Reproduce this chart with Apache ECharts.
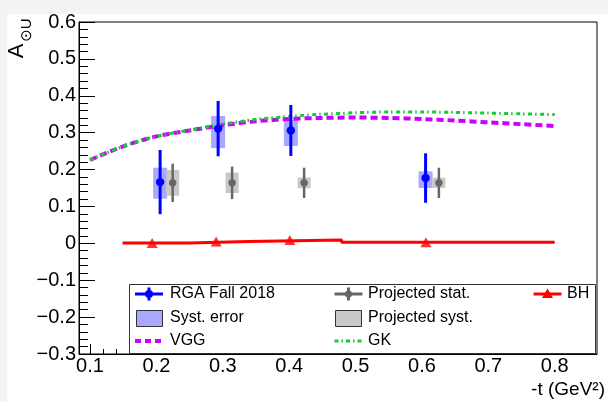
<!DOCTYPE html>
<html>
<head>
<meta charset="utf-8">
<script src="https://cdn.jsdelivr.net/npm/echarts@6/dist/echarts.min.js"></script>
<style>
  html, body { margin: 0; padding: 0; background: #f3f3f3; }
  #chart { width: 608px; height: 402px; }
</style>
</head>
<body>
<div id="chart"></div>
<script>
const FONT = '"Liberation Sans", Arial, "DejaVu Sans", sans-serif';

// RGA Fall 2018 measured asymmetry: bin centres, values, stat. and syst. errors
const rgaT = [0.2056, 0.293, 0.4025, 0.6055];
const rgaA = [0.166, 0.311, 0.306, 0.177];
const rgaStat = [0.087, 0.075, 0.069, 0.067];
const rgaSystUp = [0.039, 0.034, 0.029, 0.018];
const rgaSystDown = [0.045, 0.053, 0.042, 0.027];

// Projected precision (stat. and syst.)
const projT = [0.2245, 0.314, 0.4225, 0.6255];
const projA = [0.164, 0.164, 0.164, 0.164];
const projStat = [0.052, 0.044, 0.041, 0.041];
const projSyst = [0.035, 0.0275, 0.0145, 0.014];

// Bethe-Heitler contribution: bin edges with levels, plus markers
const bhEdges = [0.149, 0.249, 0.339, 0.479, 0.8];
const bhLevels = [0.001, 0.005, 0.009, 0.003];
const bhMarkT = [0.1936, 0.29, 0.401, 0.606];
const bhMarkA = [0.001, 0.005, 0.009, 0.003];

// Model curves
const modelT = [0.1, 0.15, 0.2, 0.25, 0.3, 0.35, 0.4, 0.45, 0.5, 0.55, 0.6, 0.65, 0.7, 0.75, 0.8];
const vggA = [0.226, 0.263, 0.29, 0.306, 0.32, 0.331, 0.337, 0.34, 0.341, 0.340, 0.337, 0.333, 0.328, 0.323, 0.318];
const gkA  = [0.226, 0.263, 0.29, 0.307, 0.323, 0.336, 0.344, 0.35, 0.354, 0.356, 0.356, 0.355, 0.353, 0.351, 0.349];

// Axis ticks
const xMajorTicks = [0.1, 0.2, 0.3, 0.4, 0.5, 0.6, 0.7, 0.8];
const xMinorTicks = [0.12, 0.14, 0.16, 0.18, 0.22, 0.24, 0.26, 0.28, 0.32, 0.34, 0.36, 0.38,
                     0.42, 0.44, 0.46, 0.48, 0.52, 0.54, 0.56, 0.58, 0.62, 0.64, 0.66, 0.68,
                     0.72, 0.74, 0.76, 0.78, 0.82, 0.84, 0.86];
const X_MIN = 0.0834, X_MAX = 0.8637;
const Y_MIN = -0.3, Y_MAX = 0.6, Y_STEP = 0.1;

const BLUE = '#0000ff', BLUE_BOX = '#a8a8ff';
const GRAY = '#666666', GRAY_BOX = '#c8c8c8';
const RED = '#ff0000', VGG_COLOR = '#cc00ff', GK_COLOR = '#11cc33';

const rgaBars = rgaT.map((t, i) => [t, rgaA[i], rgaA[i] - rgaStat[i], rgaA[i] + rgaStat[i]]);
const rgaBoxes = rgaT.map((t, i) => [t, rgaA[i] - rgaSystDown[i], rgaA[i] + rgaSystUp[i]]);
const projBars = projT.map((t, i) => [t, projA[i], projA[i] - projStat[i], projA[i] + projStat[i]]);
const projBoxes = projT.map((t, i) => [t, projA[i] - projSyst[i], projA[i] + projSyst[i]]);
const bhLine = bhEdges.map((t, i) => [t, bhLevels[Math.min(i, bhLevels.length - 1)]]);
const bhMarks = bhMarkT.map((t, i) => [t, bhMarkA[i]]);

function boxRenderer(fill, halfW) {
  return function (params, api) {
    const top = api.coord([api.value(0), api.value(2)]);
    const bot = api.coord([api.value(0), api.value(1)]);
    return {
      type: 'rect',
      shape: { x: top[0] - halfW, y: top[1], width: 2 * halfW, height: bot[1] - top[1] },
      style: { fill: fill }
    };
  };
}

function barRenderer(color, lineW, r) {
  return function (params, api) {
    const t = api.value(0);
    const c = api.coord([t, api.value(1)]);
    const lo = api.coord([t, api.value(2)]);
    const hi = api.coord([t, api.value(3)]);
    return {
      type: 'group',
      children: [
        { type: 'line', shape: { x1: hi[0], y1: hi[1], x2: lo[0], y2: lo[1] }, style: { stroke: color, lineWidth: lineW } },
        { type: 'circle', shape: { cx: c[0], cy: c[1], r: r }, style: { fill: color } }
      ]
    };
  };
}

// Legend drawn as a boxed 3-column key
const LG = { left: 129.5, top: 284.5, width: 466, height: 69 };
const rowY = [294, 318, 341];
const colX = [135, 334.5, 533.5];
const symW = 28;
function legendText(x, y, text) {
  return { type: 'text', x: x, y: y, z: 101,
    style: { text: text, fontFamily: FONT, fontSize: 16, fill: '#000', align: 'left', verticalAlign: 'middle' } };
}
function legendErrSymbol(x, y, color, r) {
  const cx = x + symW / 2;
  return [
    { type: 'line', z: 101, shape: { x1: x, y1: y, x2: x + symW, y2: y }, style: { stroke: color, lineWidth: 3 } },
    { type: 'line', z: 101, shape: { x1: cx, y1: y - 6.5, x2: cx, y2: y + 6.5 }, style: { stroke: color, lineWidth: 3 } },
    { type: 'circle', z: 101, shape: { cx: cx, cy: y, r: r }, style: { fill: color } }
  ];
}
const legendItems = [
  { type: 'rect', z: 100, shape: { x: LG.left, y: LG.top, width: LG.width, height: LG.height },
    style: { fill: '#fff', stroke: '#333', lineWidth: 1 } },
  ...legendErrSymbol(colX[0], rowY[0], BLUE, 4),
  legendText(170, rowY[0], 'RGA Fall 2018'),
  ...legendErrSymbol(colX[1], rowY[0], GRAY, 3.6),
  legendText(368, rowY[0], 'Projected stat.'),
  { type: 'line', z: 101, shape: { x1: colX[2], y1: rowY[0], x2: colX[2] + symW, y2: rowY[0] }, style: { stroke: RED, lineWidth: 3 } },
  { type: 'polygon', z: 101, shape: { points: [[colX[2] + 14, rowY[0] - 5.5], [colX[2] + 19.5, rowY[0] + 4], [colX[2] + 8.5, rowY[0] + 4]] }, style: { fill: RED } },
  legendText(567, rowY[0], 'BH'),
  { type: 'rect', z: 101, shape: { x: 136.5, y: 310.5, width: 26, height: 16 }, style: { fill: BLUE_BOX, stroke: '#333', lineWidth: 1 } },
  legendText(170, rowY[1], 'Syst. error'),
  { type: 'rect', z: 101, shape: { x: 335.5, y: 310.5, width: 26, height: 16 }, style: { fill: GRAY_BOX, stroke: '#333', lineWidth: 1 } },
  legendText(368, rowY[1], 'Projected syst.'),
  { type: 'line', z: 101, shape: { x1: colX[0], y1: rowY[2], x2: colX[0] + symW, y2: rowY[2] }, style: { stroke: VGG_COLOR, lineWidth: 4, lineDash: [6, 4] } },
  legendText(170, rowY[2], 'VGG'),
  { type: 'line', z: 101, shape: { x1: colX[1], y1: rowY[2], x2: colX[1] + symW, y2: rowY[2] }, style: { stroke: GK_COLOR, lineWidth: 3, lineDash: [4, 3, 1.5, 3] } },
  legendText(368, rowY[2], 'GK')
];

const chart = echarts.init(document.getElementById('chart'), null, { renderer: 'canvas' });
chart.setOption({
  animation: false,
  backgroundColor: '#f3f3f3',
  grid: { left: 79, right: 11, top: 22, bottom: 48, show: true, backgroundColor: '#fff', borderColor: '#000', borderWidth: 1 },
  xAxis: [
    {
      type: 'value', min: X_MIN, max: X_MAX, position: 'bottom',
      axisLine: { show: true, onZero: false, lineStyle: { color: '#000', width: 1 } },
      axisTick: { show: true, inside: true, length: 10, customValues: xMajorTicks, lineStyle: { color: '#000' } },
      axisLabel: { customValues: xMajorTicks, fontFamily: FONT, fontSize: 20, color: '#000', margin: 2,
        formatter: v => v.toFixed(1) },
      splitLine: { show: false }
    },
    {
      type: 'value', min: X_MIN, max: X_MAX, position: 'bottom',
      axisLine: { show: false, onZero: false },
      axisTick: { show: true, inside: true, length: 5, customValues: xMinorTicks, lineStyle: { color: '#000' } },
      axisLabel: { show: false },
      splitLine: { show: false }
    }
  ],
  yAxis: {
    type: 'value', min: Y_MIN, max: Y_MAX, interval: Y_STEP,
    axisLine: { show: true, onZero: false, lineStyle: { color: '#000', width: 1 } },
    axisTick: { show: true, inside: true, length: 16, lineStyle: { color: '#000' } },
    minorTick: { show: true, splitNumber: 5, length: 9, lineStyle: { color: '#000' } },
    splitLine: { show: false },
    axisLabel: { fontFamily: FONT, fontSize: 20, color: '#000', margin: 3,
      formatter: v => Math.abs(v) < 1e-9 ? '0' : (v < 0 ? '\u2212' : '') + Math.abs(v).toFixed(1) }
  },
  graphic: [
    { type: 'rect', z: -10, shape: { x: 7, y: 14, width: 601, height: 388 }, style: { fill: '#fff' } },
    { type: 'text', x: 17, y: 51, rotation: Math.PI / 2, z: 50,
      style: { text: 'A', fontFamily: FONT, fontSize: 22, fill: '#000', align: 'center', verticalAlign: 'middle' } },
    { type: 'text', x: 27, y: 30, rotation: Math.PI / 2, z: 50,
      style: { text: '\u2299U', fontFamily: FONT, fontSize: 15, fill: '#000', align: 'center', verticalAlign: 'middle' } },
    { type: 'text', x: 605, y: 390, z: 50,
      style: { text: '-t (GeV\u00b2)', fontFamily: FONT, fontSize: 19, fill: '#000', align: 'right', verticalAlign: 'middle' } },
    ...legendItems
  ],
  series: [
    { type: 'custom', name: 'Syst. error', xAxisIndex: 0, renderItem: boxRenderer(BLUE_BOX, 7), data: rgaBoxes,
      encode: { x: 0, y: [1, 2] }, z: 1 },
    { type: 'custom', name: 'Projected syst.', xAxisIndex: 0, renderItem: boxRenderer(GRAY_BOX, 6.5), data: projBoxes,
      encode: { x: 0, y: [1, 2] }, z: 1 },
    { type: 'line', name: 'VGG', data: modelT.map((t, i) => [t, vggA[i]]), smooth: 0.3, symbol: 'none',
      lineStyle: { color: VGG_COLOR, width: 4, type: [7, 4] }, z: 3 },
    { type: 'line', name: 'GK', data: modelT.map((t, i) => [t, gkA[i]]), smooth: 0.3, symbol: 'none',
      lineStyle: { color: GK_COLOR, width: 3, type: [4, 3, 1.5, 3.5] }, z: 3 },
    { type: 'line', name: 'BH', data: bhLine, step: 'end', symbol: 'none',
      lineStyle: { color: RED, width: 3 }, z: 4 },
    { type: 'scatter', name: 'BH markers', data: bhMarks, symbol: 'triangle', symbolSize: [11, 10],
      itemStyle: { color: RED }, z: 5 },
    { type: 'custom', name: 'Projected stat.', renderItem: barRenderer(GRAY, 2.5, 3.7), data: projBars,
      encode: { x: 0, y: [1, 2, 3] }, z: 6 },
    { type: 'custom', name: 'RGA Fall 2018', renderItem: barRenderer(BLUE, 3, 4.2), data: rgaBars,
      encode: { x: 0, y: [1, 2, 3] }, z: 7 }
  ]
});
</script>
</body>
</html>
